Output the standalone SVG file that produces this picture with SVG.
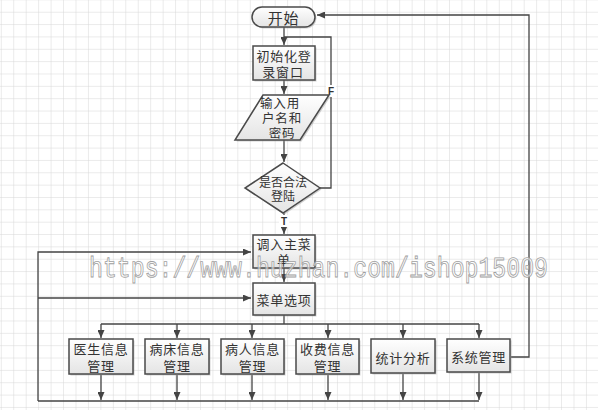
<svg xmlns="http://www.w3.org/2000/svg" width="598" height="410" viewBox="0 0 598 410">
<defs>
<pattern id="grid" patternUnits="userSpaceOnUse" x="0.8" y="-0.6" width="12.45" height="12.35">
<path d="M0,0 H12.45 M0,0 V12.35" fill="none" stroke="#d6d6d6" stroke-width="1"/>
</pattern>
<linearGradient id="fillg" x1="0" y1="0" x2="0" y2="1">
<stop offset="0" stop-color="#ffffff"/>
<stop offset="1" stop-color="#e4e4e4"/>
</linearGradient>
<marker id="arr" markerUnits="userSpaceOnUse" markerWidth="8" markerHeight="7" refX="8" refY="3.5" orient="auto">
<path d="M0,0 L8,3.5 L0,7 z" fill="#444"/>
</marker>
</defs>
<style>
.box{fill:url(#fillg);stroke:#4a4a4a;stroke-width:1.5}
.sh{fill:#9a9a9a;opacity:0.45}
.t{font-family:"Noto Sans CJK SC","Liberation Serif",serif;font-size:13px;fill:#333;text-anchor:middle;dominant-baseline:central;letter-spacing:0.8px}
.s{font-size:12.5px}
.c{fill:none;stroke:#444;stroke-width:1.3}
.lbl{font-family:"Liberation Sans",sans-serif;font-size:10px;font-weight:bold;fill:#333;text-anchor:middle;dominant-baseline:central}
.wm{font-family:"Liberation Mono",monospace;font-size:29px;fill:#ffffff;fill-opacity:0.6;stroke:#a0a0a0;stroke-width:0.9;text-rendering:geometricPrecision}
</style>
<rect x="0" y="0" width="598" height="410" fill="#ffffff"/>
<rect x="0" y="0" width="598" height="410" fill="url(#grid)"/>

<g id="connectors">
<path class="c" d="M511,357 H529 V15 H317" marker-end="url(#arr)"/>
<path class="c" d="M284,27 V45" marker-end="url(#arr)"/>
<path class="c" d="M320,188 H331 V37 H284"/>
<path class="c" d="M284,80 V94" marker-end="url(#arr)"/>
<path class="c" d="M284,140 V162" marker-end="url(#arr)"/>
<path class="c" d="M284,213 V234" marker-end="url(#arr)"/>
<path class="c" d="M284,268 V282" marker-end="url(#arr)"/>
<path class="c" d="M38,401 V252 H251" marker-end="url(#arr)"/>
<path class="c" d="M38,298 H251" marker-end="url(#arr)"/>
<path class="c" d="M284,315 V324"/>
<path class="c" d="M101,324 H479"/>
<path class="c" d="M101,324 V338" marker-end="url(#arr)"/>
<path class="c" d="M177,324 V338" marker-end="url(#arr)"/>
<path class="c" d="M252,324 V338" marker-end="url(#arr)"/>
<path class="c" d="M328,324 V338" marker-end="url(#arr)"/>
<path class="c" d="M403,324 V338" marker-end="url(#arr)"/>
<path class="c" d="M479,324 V338" marker-end="url(#arr)"/>
<path class="c" d="M38,401 H479"/>
<path class="c" d="M101,375 V400" marker-end="url(#arr)"/>
<path class="c" d="M177,375 V400" marker-end="url(#arr)"/>
<path class="c" d="M252,375 V400" marker-end="url(#arr)"/>
<path class="c" d="M328,375 V400" marker-end="url(#arr)"/>
<path class="c" d="M403,374 V400" marker-end="url(#arr)"/>
<path class="c" d="M479,373 V400" marker-end="url(#arr)"/>
<rect x="326" y="85" width="10" height="12" fill="#ffffff"/>
<text class="lbl" x="331" y="91">F</text>
<rect x="279" y="215" width="10" height="12" fill="#ffffff"/>
<text class="lbl" x="284" y="221">T</text>
</g>

<g id="start">
<rect class="sh" x="253.5" y="8.5" width="63" height="20" rx="10"/>
<rect class="box" x="252" y="7" width="63" height="20" rx="10"/>
<text class="t" x="283.5" y="17" style="font-size:15px">开始</text>
</g>

<g id="init">
<rect class="sh" x="254.5" y="47.5" width="62" height="34"/>
<rect class="box" x="253" y="46" width="62" height="34"/>
<text class="t" x="284" y="55">初始化登</text>
<text class="t" x="283" y="71">录窗口</text>
</g>

<g id="input">
<polygon class="sh" points="264.5,96.5 330.5,96.5 301.5,141.5 236.5,141.5"/>
<polygon class="box" points="263,95 329,95 300,140 235,140"/>
<text class="t s" x="280" y="102">输入用</text>
<text class="t s" x="282" y="117">户名和</text>
<text class="t s" x="282" y="132">密码</text>
</g>

<g id="check">
<polygon class="sh" points="284.5,164.5 321.5,189.5 284.5,214.5 246.5,189.5"/>
<polygon class="box" points="283,163 320,188 283,213 245,188"/>
<text class="t" x="283" y="181" style="font-size:12px;letter-spacing:0">是否合法</text>
<text class="t" x="283" y="195" style="font-size:12px;letter-spacing:0">登陆</text>
</g>

<g id="mainmenu">
<rect class="sh" x="254.5" y="236.5" width="62" height="33"/>
<rect class="box" x="253" y="235" width="62" height="33"/>
<text class="t" x="284" y="243">调入主菜</text>
<text class="t" x="284" y="259">单</text>
</g>

<g id="menuopt">
<rect class="sh" x="254.5" y="284.5" width="62" height="32"/>
<rect class="box" x="253" y="283" width="62" height="32"/>
<text class="t" x="284" y="299">菜单选项</text>
</g>

<g id="doctor">
<rect class="sh" x="70.5" y="340.5" width="64" height="35"/>
<rect class="box" x="69" y="339" width="64" height="35"/>
<text class="t" x="101" y="348">医生信息</text>
<text class="t" x="101" y="365">管理</text>
</g>

<g id="bed">
<rect class="sh" x="146.5" y="340.5" width="64" height="35"/>
<rect class="box" x="145" y="339" width="64" height="35"/>
<text class="t" x="177" y="348">病床信息</text>
<text class="t" x="177" y="365">管理</text>
</g>

<g id="patient">
<rect class="sh" x="222.5" y="340.5" width="63" height="35"/>
<rect class="box" x="221" y="339" width="63" height="35"/>
<text class="t" x="252.5" y="348">病人信息</text>
<text class="t" x="252.5" y="365">管理</text>
</g>

<g id="fee">
<rect class="sh" x="297.5" y="340.5" width="63" height="35"/>
<rect class="box" x="296" y="339" width="63" height="35"/>
<text class="t" x="327.5" y="348">收费信息</text>
<text class="t" x="327.5" y="365">管理</text>
</g>

<g id="stats">
<rect class="sh" x="372.5" y="340.5" width="64" height="34"/>
<rect class="box" x="371" y="339" width="64" height="34"/>
<text class="t" x="403" y="357">统计分析</text>
</g>

<g id="sysmgmt">
<rect class="sh" x="448.5" y="340.5" width="63" height="33"/>
<rect class="box" x="447" y="339" width="63" height="33"/>
<text class="t" x="478.5" y="356">系统管理</text>
</g>

<text class="wm" x="89" y="277" textLength="459" lengthAdjust="spacingAndGlyphs">https://www.huzhan.com/ishop15009</text>
</svg>
